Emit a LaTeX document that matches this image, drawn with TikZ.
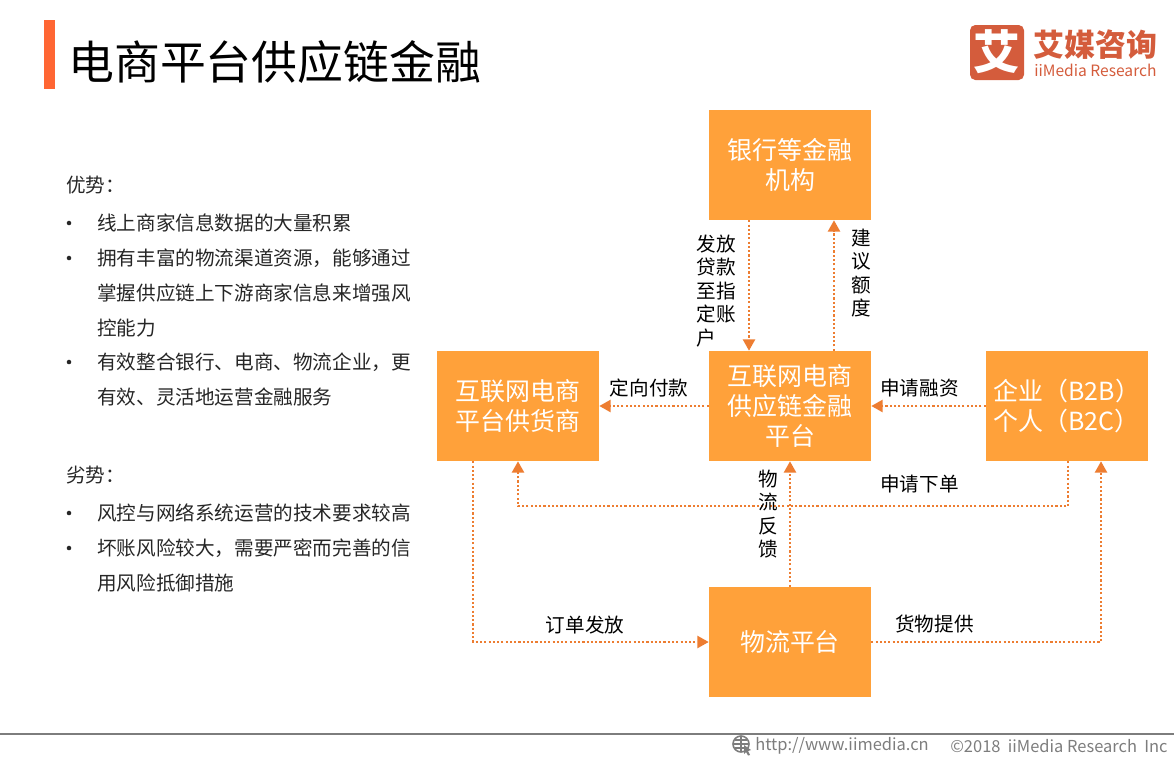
\documentclass[tikz,border=0pt]{standalone}
\usepackage{fontspec}
\setmainfont{Noto Sans CJK SC}
\usetikzlibrary{arrows.meta}
\definecolor{boxorange}{RGB}{255,161,58}
\definecolor{floworange}{RGB}{237,125,49}
\definecolor{barorange}{RGB}{255,102,51}
\definecolor{logored}{RGB}{212,92,60}
\definecolor{footgray}{RGB}{125,125,125}
\definecolor{bodygray}{RGB}{38,38,38}

\begin{document}
\begin{tikzpicture}[x=0.75pt,y=-0.75pt]

%
% Styles
%
\tikzstyle{platformbox} = [rectangle,fill=boxorange,text=white,minimum width=121.5pt,minimum height=82.5pt,inner sep=0pt,align=center,font=\fontsize{18.7}{22.2}\selectfont]
\tikzstyle{flow}  = [-{Triangle[length=8.5pt,width=9pt]},floworange,line width=1.7pt,dash pattern=on 1.6pt off 1.6pt]
\tikzstyle{label} = [inner sep=0pt,align=center,text=black,font=\fontsize{14.7}{17.6}\selectfont]
\tikzstyle{body}  = [anchor=west,inner sep=0pt,align=left,text=bodygray,font=\fontsize{14.7}{26.25}\selectfont]
\tikzstyle{bullet} = [circle,fill=black!85,inner sep=0pt,minimum size=3.4pt]
\tikzstyle{foot}  = [anchor=west,inner sep=0pt,text=footgray,font=\fontsize{12.35}{14}\selectfont]

\useasboundingbox (0,0) rectangle (1174,760);

% title
\fill[barorange] (44,20) rectangle (55,89);
\node[anchor=west,inner sep=0pt,font=\fontsize{34.4}{40}\selectfont] (title) at (68,62) {电商平台供应链金融};

% logo
\fill[logored,rounded corners=4pt] (970,25) rectangle (1024,80);
\node[text=white,inner sep=0pt,font=\fontsize{35}{40}\bfseries\selectfont] (logomark) at (997,52) {艾};
\node[anchor=west,inner sep=0pt,text=logored,text height=16pt,text depth=1pt,font=\fontsize{23.2}{26}\bfseries\selectfont] (logocn) at (1033,46.5) {艾媒咨询};
\node[anchor=west,inner sep=0pt,text=logored,text height=9pt,text depth=0.5pt,font=\fontsize{11.7}{14}\selectfont] (logoen) at (1034,71) {iiMedia Research};

% left column
\node[body] (good) at (66,185) {优势：};
\node[bullet] (g1) at (69,223) {};
\node[body] (goodone) at (97,222.5) {线上商家信息数据的大量积累};
\node[bullet] (g2) at (69,258) {};
\node[body] (goodtwo) at (97,293) {拥有丰富的物流渠道资源，能够通过\\掌握供应链上下游商家信息来增强风\\控能力};
\node[bullet] (g3) at (69,362) {};
\node[body] (goodthree) at (97,380) {有效整合银行、电商、物流企业，更\\有效、灵活地运营金融服务};
\node[body] (bad) at (66,475) {劣势：};
\node[bullet] (b1) at (69,513) {};
\node[body] (badone) at (97,512.5) {风控与网络系统运营的技术要求较高};
\node[bullet] (b2) at (69,548) {};
\node[body] (badtwo) at (97,565.5) {坏账风险较大，需要严密而完善的信\\用风险抵御措施};

% boxes
\node[platformbox] (bank) at (790,165) {银行等金融\\机构};
\node[platformbox] (supplier) at (518,406) {互联网电商\\平台供货商};
\node[platformbox] (platform) at (790,406) {互联网电商\\供应链金融\\平台};
\node[platformbox,align=left,text width=110pt] (customer) at (1067,406) {企业（B2B）\\个人（B2C）};
\node[platformbox] (logistics) at (790,642) {物流平台};

% connectors
\draw[flow] ([xshift=-30.75pt]bank.south) -- ([xshift=-30.75pt]platform.north);
\draw[flow] ([xshift=33pt]platform.north) -- ([xshift=33pt]bank.south);
\draw[flow] (platform.west) -- (supplier.east);
\draw[flow] (customer.west) -- (platform.east);
\draw[flow] ([xshift=0.75pt]customer.south) -- ++(0,45) -| (supplier.south);
\draw[flow] (logistics.north) -- (platform.south);
\draw[flow] ([xshift=-33.75pt]supplier.south) |- (logistics.west);
\draw[flow] (logistics.east) -| ([xshift=25.5pt]customer.south);

% labels
\node[label,align=left] (payout) at (716,291) {发放\\贷款\\至指\\定账\\户};
\node[label] (quota) at (861,273) {建\\议\\额\\度};
\node[label] (pay) at (649,388) {定向付款};
\node[label] (apply) at (919.5,388) {申请融资};
\node[label] (order) at (919.5,484) {申请下单};
\node[label] (feedback) at (768,514) {物\\流\\反\\馈};
\node[label] (issue) at (585,625) {订单发放};
\node[label] (supply) at (934.5,624) {货物提供};

% footer
\draw[footgray,line width=1.6pt] (0,734) -- (1174,734);
\draw[footgray,line width=1.2pt] (741,744) circle (8);
\draw[footgray,line width=0.8pt] (733,744) -- (749,744) (741,736) -- (741,752) (735,740) -- (747,740) (735,748) -- (747,748);
\fill[footgray] (744,745) -- (751,750) -- (748,751) -- (750,755) -- (748,755.5) -- (746,752) -- (744,754) -- cycle;
\node[foot] (url) at (755,746) {http://www.iimedia.cn};
\node[foot] (copy) at (950,746) {©2018\ \ iiMedia Research\ \ Inc};

\end{tikzpicture}
\end{document}
